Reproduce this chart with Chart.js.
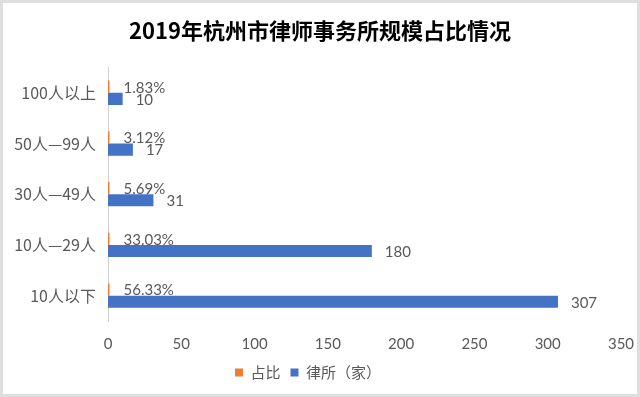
<!DOCTYPE html>
<html>
<head>
<meta charset="utf-8">
<script src="https://cdn.jsdelivr.net/npm/chart.js@4.4.1/dist/chart.umd.min.js"></script>
<style>
  html, body { margin: 0; padding: 0; background: #fff; }
  #wrap { position: relative; width: 640px; height: 397px; }
  #frame { position: absolute; left: 0; top: 0; width: 640px; height: 397px; box-sizing: border-box;
           border: 3px solid #dedede; pointer-events: none; }
  canvas { display: block; }
</style>
</head>
<body>
<div id="wrap">
  <canvas id="c" width="640" height="397"></canvas>
  <div id="frame"></div>
</div>
<script>
const categories = ['100人以上', '50人—99人', '30人—49人', '10人—29人', '10人以下'];
const shareValues = [0.0183, 0.0312, 0.0569, 0.3303, 0.5633];
const firmCounts = [10, 17, 31, 180, 307];
const seriesNames = ['占比', '律所（家）'];
const xTicks = [0, 50, 100, 150, 200, 250, 300, 350];
const titleText = '2019年杭州市律师事务所规模占比情况';

const GRAY = '#595959';
const FONT = 'Lato, "Noto Sans CJK SC", sans-serif';
const CJK = '"Noto Sans CJK SC", Lato, sans-serif';

const labelPlugin = {
  id: 'valueLabels',
  afterLayout(chart) {
    // legend in the reference sits slightly left of the canvas centre
    if (chart.legend) { chart.legend.left -= 12; chart.legend.right -= 12; }
  },
  afterDatasetsDraw(chart) {
    const ctx = chart.ctx;
    ctx.save();
    ctx.fillStyle = GRAY;
    ctx.font = '15px ' + FONT;
    ctx.textAlign = 'left';
    ctx.textBaseline = 'middle';
    chart.data.datasets.forEach((ds, di) => {
      const meta = chart.getDatasetMeta(di);
      meta.data.forEach((el, i) => {
        const v = ds.data[i];
        const txt = di === 0 ? (v * 100).toFixed(2) + '%' : String(v);
        ctx.fillText(txt, el.x + (di === 0 ? 14 : 13), el.y + 1);
      });
    });
    ctx.restore();
  }
};

new Chart(document.getElementById('c'), {
  type: 'bar',
  data: {
    labels: categories,
    datasets: [
      { label: seriesNames[0], data: shareValues, backgroundColor: '#ED7D31',
        categoryPercentage: 0.48, barPercentage: 1, minBarLength: 1.5 },
      { label: seriesNames[1], data: firmCounts, backgroundColor: '#4472C4',
        categoryPercentage: 0.48, barPercentage: 1 }
    ]
  },
  options: {
    indexAxis: 'y',
    responsive: false,
    animation: false,
    layout: { padding: { top: 0, right: 0, bottom: 7, left: 0 } },
    plugins: {
      title: {
        display: true, text: titleText, color: '#000',
        font: { size: 22, weight: 'bold', family: CJK },
        padding: { top: 17, bottom: 24 }
      },
      legend: {
        position: 'bottom',
        labels: {
          boxWidth: 8, boxHeight: 8, color: GRAY, padding: 10,
          font: { size: 15, family: CJK }
        }
      },
      tooltip: { enabled: false }
    },
    scales: {
      x: {
        min: 0, max: 350,
        afterBuildTicks(scale) { scale.ticks = xTicks.map(v => ({ value: v })); },
        afterFit(scale) { scale.height = 34; scale.paddingRight = 19; scale.paddingLeft = 0; },
        grid: { display: false, drawTicks: false },
        border: { display: false },
        ticks: { color: GRAY, font: { size: 15, family: FONT }, padding: 14 }
      },
      y: {
        afterFit(scale) { scale.width = 108; },
        grid: { display: false, drawTicks: false },
        border: { display: true, color: '#d0d0d0', width: 1 },
        ticks: { color: GRAY, font: { size: 16, family: CJK }, padding: 12 }
      }
    }
  },
  plugins: [labelPlugin]
});
</script>
</body>
</html>
